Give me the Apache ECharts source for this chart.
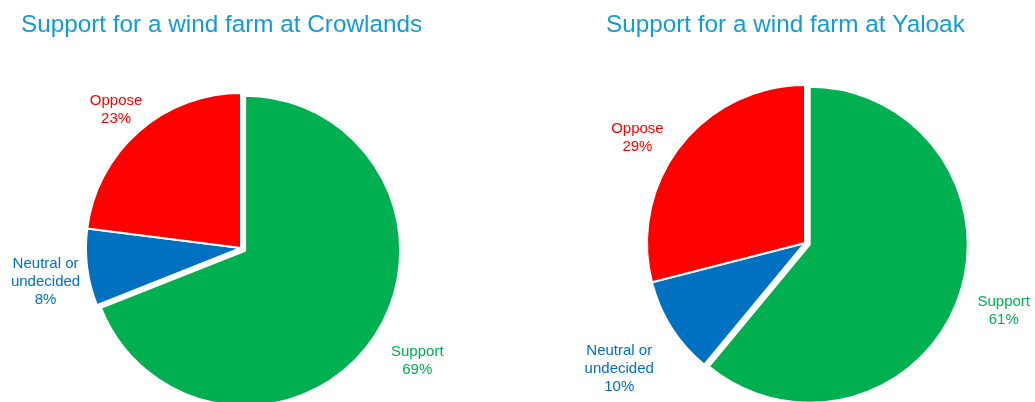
<!DOCTYPE html>
<html>
<head>
<meta charset="utf-8">
<script src="https://cdn.jsdelivr.net/npm/echarts@6/dist/echarts.min.js"></script>
<style>
  html, body { margin: 0; padding: 0; background: #fff; }
  #chart { width: 1035px; height: 402px; }
</style>
</head>
<body>
<div id="chart"></div>
<script>
// Survey answers, in slice order (clockwise from 12 o'clock)
const categories = ['Support', 'Neutral or\nundecided', 'Oppose'];
const crowlandsValues = [69, 8, 23];
const yaloakValues = [61, 10, 29];
const sliceColors = ['#00B050', '#0070C0', '#FF0000'];
const titles = ['Support for a wind farm at Crowlands', 'Support for a wind farm at Yaloak'];

const FONT = '"Liberation Sans", Arial, sans-serif';

// Small hand nudges for each category label, per chart: [dx, dy]
const labelNudgeLeft = [[15, 3], [-2, 9], [4, 8]];
const labelNudgeRight = [[4, -2], [-11, 15], [-4, 22]];

function pieData(values, withFill) {
  return categories.map((name, i) => ({
    name: name,
    value: values[i],
    selected: i === 0,
    itemStyle: withFill ? { color: sliceColors[i] } : { color: 'rgba(0,0,0,0)', borderWidth: 0 },
    label: { color: sliceColors[i] }
  }));
}

// Solid pie with the "Support" slice pulled out slightly
function piePair(values, center, r, labelRing, nudges) {
  return [
    {
      type: 'pie',
      center: center,
      radius: [0, r],
      startAngle: 90,
      clockwise: true,
      selectedMode: 'single',
      selectedOffset: 5,
      silent: true,
      animation: false,
      itemStyle: { borderColor: '#fff', borderWidth: 2 },
      label: { show: false },
      labelLine: { show: false },
      data: pieData(values, true)
    },
    // Transparent outer ring that carries the centred category labels
    {
      type: 'pie',
      center: center,
      radius: labelRing,
      startAngle: 90,
      clockwise: true,
      silent: true,
      animation: false,
      label: {
        show: true,
        position: 'inside',
        formatter: '{b}\n{c}%',
        fontFamily: FONT,
        fontSize: 15,
        lineHeight: 18,
        align: 'center'
      },
      labelLine: { show: false },
      labelLayout: function (p) {
        const n = nudges[p.dataIndex];
        return { dx: n[0], dy: n[1] };
      },
      data: pieData(values, false)
    }
  ];
}

const titleStyle = { color: '#149BD7', fontFamily: FONT, fontSize: 24.3, fontWeight: 'normal' };

const chart = echarts.init(document.getElementById('chart'), null, { renderer: 'canvas' });
chart.setOption({
  backgroundColor: '#fff',
  title: [
    { text: titles[0], left: 16, top: 8, textStyle: titleStyle },
    { text: titles[1], left: 601, top: 8, textStyle: titleStyle }
  ],
  series: [
    ...piePair(crowlandsValues, [241, 248], 155, [175, 209], labelNudgeLeft),
    ...piePair(yaloakValues, [805, 243], 158, [182, 226], labelNudgeRight)
  ]
});
</script>
</body>
</html>
